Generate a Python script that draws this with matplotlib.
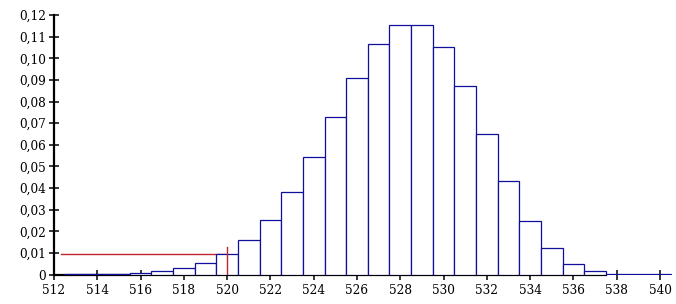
import numpy as np
import matplotlib
matplotlib.use('Agg')
import matplotlib.pyplot as plt
from matplotlib.ticker import FuncFormatter

# %% data
values = np.arange(513, 541)
probs = [0.0001, 0.0001, 0.0002, 0.0008, 0.0016, 0.0030, 0.0053, 0.0094,
         0.0160, 0.0251, 0.0380, 0.0542, 0.0727, 0.0911, 0.1068, 0.1156,
         0.1156, 0.1053, 0.0874, 0.0648, 0.0431, 0.0248, 0.0122, 0.0048,
         0.0016, 0.0004, 0.0001, 0.0001]
x_ticks = np.arange(512, 541, 2)
y_ticks = np.arange(0, 0.121, 0.01)
threshold_x = 520
threshold_y = 0.0094
marker_top = 0.0127

plt.rcParams['font.family'] = ['DejaVu Serif']

fig = plt.figure(figsize=(6.76, 3.04), dpi=100)
ax = fig.add_axes([0.0799, 0.0964, 0.9156, 0.8543])

blue = '#0f0f9c'
red = '#c0282d'

# red guide line (horizontal part sits behind the bars)
ax.plot([512.3, threshold_x], [threshold_y, threshold_y], color=red, lw=1.0, zorder=1)
ax.bar(values, probs, width=1.0, facecolor='white', edgecolor=blue, linewidth=0.9, zorder=2)
ax.plot([threshold_x, threshold_x], [0, marker_top], color=red, lw=1.0, zorder=3)

ax.set_xlim(512, 540.6)
ax.set_ylim(0, 0.12)
ax.set_xticks(x_ticks)
ax.set_yticks(y_ticks)

def fmt_y(v, pos):
    if abs(v) < 1e-9:
        return '0'
    return ('%.2f' % v).replace('.', ',')

ax.yaxis.set_major_formatter(FuncFormatter(fmt_y))

for s in ['top', 'right']:
    ax.spines[s].set_visible(False)
for s in ['left', 'bottom']:
    ax.spines[s].set_linewidth(1.6)
    ax.spines[s].set_zorder(1.5)
ax.spines['bottom'].set_bounds(512, 537.5)
ax.tick_params(direction='inout', length=7, width=1.1, labelsize=8.7, pad=3)
ax.tick_params(axis='y', pad=2)

fig.savefig('out.png', dpi=100)
